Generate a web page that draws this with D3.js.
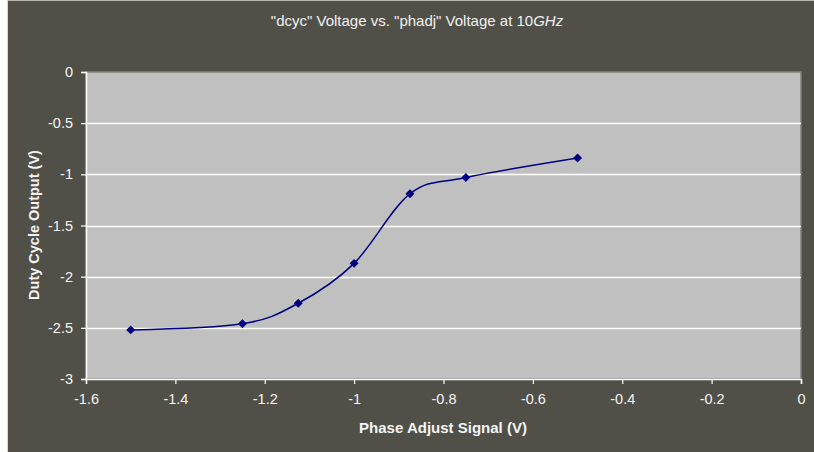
<!DOCTYPE html>
<html>
<head>
<meta charset="utf-8">
<script src="https://cdn.jsdelivr.net/npm/d3@7"></script>
<style>
  html, body { margin: 0; padding: 0; background: #ffffff; }
  svg { display: block; }
  text { font-family: "Liberation Sans", Arial, sans-serif; }
</style>
</head>
<body>
<svg id="chart" width="814" height="452"></svg>
<script>
// Phase adjust signal (V) and measured duty-cycle output (V)
const phaseAdjust = [-1.5, -1.25, -1.125, -1.0, -0.875, -0.75, -0.5];
const dutyCycle   = [-2.52, -2.46, -2.26, -1.87, -1.19, -1.03, -0.84];

const xTicks = [-1.6, -1.4, -1.2, -1, -0.8, -0.6, -0.4, -0.2, 0];
const yTicks = [0, -0.5, -1, -1.5, -2, -2.5, -3];

const titleMain = "\"dcyc\" Voltage vs. \"phadj\" Voltage at 10";
const titleUnit = "GHz";
const xTitle = "Phase Adjust Signal (V)";
const yTitle = "Duty Cycle Output (V)";

const svg = d3.select("#chart");

// Chart background
svg.append("rect")
  .attr("x", 8).attr("y", 0).attr("width", 806).attr("height", 452)
  .attr("fill", "#505048");
svg.append("line")
  .attr("x1", 8).attr("x2", 814).attr("y1", 0.5).attr("y2", 0.5)
  .attr("stroke", "#b8b8b0").attr("stroke-width", 1);
svg.append("line")
  .attr("x1", 7.5).attr("x2", 7.5).attr("y1", 0).attr("y2", 452)
  .attr("stroke", "#d8d8d8").attr("stroke-width", 1);

const plot = { left: 86, top: 72, right: 801, bottom: 379 };

const x = d3.scaleLinear().domain([-1.6, 0]).range([plot.left, plot.right]);
const y = d3.scaleLinear().domain([-3, 0]).range([plot.bottom, plot.top]);

// Plot area
svg.append("rect")
  .attr("x", plot.left).attr("y", plot.top)
  .attr("width", plot.right - plot.left).attr("height", plot.bottom - plot.top)
  .attr("fill", "#c0c0c0")
  .attr("stroke", "#808080").attr("stroke-width", 1.5);

// Horizontal gridlines
svg.append("g")
  .selectAll("line")
  .data(yTicks.filter(d => d !== 0 && d !== -3))
  .join("line")
  .attr("x1", plot.left).attr("x2", plot.right)
  .attr("y1", d => Math.round(y(d)) + 0.5).attr("y2", d => Math.round(y(d)) + 0.5)
  .attr("stroke", "#ffffff").attr("stroke-width", 1.5);

// Axes (plain hyphen-minus in labels)
const plain = d => String(d);
const xAxis = svg.append("g")
  .attr("transform", `translate(0,${plot.bottom})`)
  .call(d3.axisBottom(x).tickValues(xTicks).tickSize(5).tickPadding(10).tickFormat(plain));
const yAxis = svg.append("g")
  .attr("transform", `translate(${plot.left},0)`)
  .call(d3.axisLeft(y).tickValues(yTicks).tickSize(5).tickPadding(8).tickFormat(plain));

[xAxis, yAxis].forEach(g => {
  g.select(".domain").attr("stroke", "#ffffff").attr("stroke-width", 1.5);
  g.selectAll(".tick line").attr("stroke", "#ffffff").attr("stroke-width", 1.2);
  g.selectAll(".tick text")
    .attr("fill", "#f4f4f4")
    .style("font-size", "14.5px")
    .style("font-family", "Liberation Sans, Arial, sans-serif");
});

// Smoothed data line
const line = d3.line()
  .x((d, i) => x(phaseAdjust[i]))
  .y(d => y(d))
  .curve(d3.curveCatmullRom.alpha(0));

svg.append("path")
  .datum(dutyCycle)
  .attr("d", line)
  .attr("fill", "none")
  .attr("stroke", "#000080")
  .attr("stroke-width", 1.5);

// Diamond markers
svg.append("g")
  .selectAll("path")
  .data(dutyCycle)
  .join("path")
  .attr("transform", (d, i) => `translate(${x(phaseAdjust[i])},${y(d)}) rotate(45)`)
  .attr("d", d3.symbol().type(d3.symbolSquare).size(40))
  .attr("fill", "#000080");

// Title
const title = svg.append("text")
  .attr("x", 417).attr("y", 26)
  .attr("text-anchor", "middle")
  .attr("fill", "#f0f0f0")
  .style("font-size", "15px");
title.append("tspan").text(titleMain);
title.append("tspan").style("font-style", "italic").text(titleUnit);

// Axis titles
svg.append("text")
  .attr("x", 443).attr("y", 433)
  .attr("text-anchor", "middle")
  .attr("fill", "#f4f4f4")
  .style("font-size", "15px").style("font-weight", "bold")
  .text(xTitle);

svg.append("text")
  .attr("transform", "translate(39,225) rotate(-90)")
  .attr("text-anchor", "middle")
  .attr("fill", "#f4f4f4")
  .style("font-size", "14.5px").style("font-weight", "bold")
  .text(yTitle);
</script>
</body>
</html>
